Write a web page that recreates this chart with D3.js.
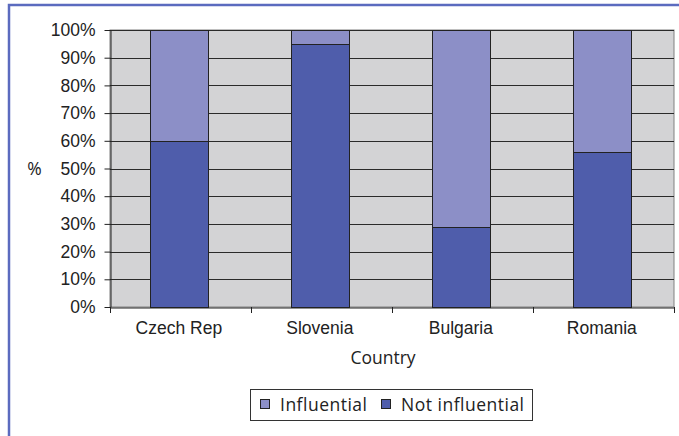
<!DOCTYPE html>
<html>
<head>
<meta charset="utf-8">
<script src="https://cdn.jsdelivr.net/npm/d3@7"></script>
<style>
  html, body { margin: 0; padding: 0; background: #fff; }
  svg { display: block; font-family: "Open Sans", "Noto Sans", sans-serif; }
</style>
</head>
<body>
<div id="chart"></div>
<script>
// Share of respondents who saw the factor as influential, by country
const countries = ["Czech Rep", "Slovenia", "Bulgaria", "Romania"];
const notInfluential = [60, 95, 29, 56];
const influential = [40, 5, 71, 44];
const seriesNames = ["Influential", "Not influential"];
const yTicks = [0, 10, 20, 30, 40, 50, 60, 70, 80, 90, 100];

(function() {
  const W = 679, H = 436;
  const colours = { "Influential": "#8c8fc7", "Not influential": "#4f5dab" };
  const textCol = "#222";
  const fs = "17.5px";

  const svg = d3.select("#chart").append("svg")
    .attr("width", W)
    .attr("height", H);

  // outer frame (cut off at right and bottom like the source)
  svg.append("path")
    .attr("d", `M9,${H + 5} V5 H${W + 5}`)
    .attr("fill", "none")
    .attr("stroke", "#5b6bbf")
    .attr("stroke-width", 2.5);

  const plot = { left: 110, top: 30, right: 674, bottom: 307 };

  const x = d3.scaleBand()
    .domain(countries)
    .range([plot.left, plot.right])
    .paddingInner(0.59)
    .paddingOuter(0.295)
    .align(0.48);

  const y = d3.scaleLinear()
    .domain([0, 100])
    .range([plot.bottom, plot.top]);

  // plot background
  svg.append("rect")
    .attr("x", plot.left)
    .attr("y", plot.top)
    .attr("width", plot.right - plot.left)
    .attr("height", plot.bottom - plot.top)
    .attr("fill", "#d3d3d5")
    .attr("stroke", "#808080")
    .attr("stroke-width", 1);

  // gridlines
  svg.append("g")
    .selectAll("line")
    .data(yTicks.slice(1))
    .join("line")
    .attr("x1", plot.left)
    .attr("x2", plot.right)
    .attr("y1", d => Math.round(y(d)) + 0.5)
    .attr("y2", d => Math.round(y(d)) + 0.5)
    .attr("stroke", "#2a2a2a")
    .attr("stroke-width", 1);

  // stacked bars
  const rows = countries.map((c, i) => ({
    country: c,
    "Not influential": notInfluential[i],
    "Influential": influential[i]
  }));
  const stack = d3.stack().keys(["Not influential", "Influential"]);
  const layers = stack(rows);

  svg.append("g")
    .selectAll("g")
    .data(layers)
    .join("g")
    .attr("fill", d => colours[d.key])
    .selectAll("rect")
    .data(d => d)
    .join("rect")
    .attr("x", d => Math.round(x(d.data.country)) + 0.5)
    .attr("y", d => Math.round(y(d[1])) + 0.5)
    .attr("width", Math.round(x.bandwidth()))
    .attr("height", d => Math.round(y(d[0])) - Math.round(y(d[1])))
    .attr("stroke", "#222")
    .attr("stroke-width", 1);

  // y axis
  const yAxis = svg.append("g")
    .attr("transform", `translate(${plot.left + 0.5},0)`)
    .call(d3.axisLeft(y).tickValues(yTicks).tickFormat(d => d + "%").tickSize(6).tickSizeOuter(0));
  yAxis.select(".domain").attr("stroke", "#222");
  yAxis.selectAll(".tick line").attr("stroke", "#222");
  yAxis.selectAll(".tick text")
    .attr("x", -15)
    .style("font-size", fs)
    .attr("fill", textCol);

  // x axis
  const xAxis = svg.append("g")
    .attr("transform", `translate(0,${plot.bottom + 0.5})`)
    .call(d3.axisBottom(x).tickSize(0).tickSizeOuter(0));
  xAxis.select(".domain").attr("stroke", "#222");
  xAxis.selectAll(".tick text")
    .attr("y", 14)
    .style("font-size", fs)
    .attr("fill", textCol);

  // category boundary ticks
  const bounds = d3.range(countries.length + 1).map(i => plot.left + i * x.step());
  svg.append("g")
    .selectAll("line")
    .data(bounds)
    .join("line")
    .attr("x1", d => Math.round(d) + 0.5)
    .attr("x2", d => Math.round(d) + 0.5)
    .attr("y1", plot.bottom)
    .attr("y2", plot.bottom + 6)
    .attr("stroke", "#222");

  // axis titles
  svg.append("text")
    .attr("x", 34.5)
    .attr("y", y(50))
    .attr("dy", "0.35em")
    .attr("text-anchor", "middle")
    .style("font-size", fs)
    .attr("fill", textCol)
    .text("%");

  svg.append("text")
    .attr("x", 383)
    .attr("y", 358)
    .attr("dy", "0.35em")
    .attr("text-anchor", "middle")
    .style("font-size", fs)
    .attr("fill", textCol)
    .text("Country");

  // legend
  const legend = svg.append("g");
  legend.append("rect")
    .attr("x", 250.5)
    .attr("y", 389.5)
    .attr("width", 282)
    .attr("height", 31)
    .attr("fill", "#fff")
    .attr("stroke", "#333");

  const legendX = [260, 381];
  const items = legend.selectAll("g.item")
    .data(seriesNames)
    .join("g")
    .attr("class", "item")
    .attr("transform", (d, i) => `translate(${legendX[i]},0)`);

  items.append("rect")
    .attr("x", 0.5)
    .attr("y", 399.5)
    .attr("width", 9)
    .attr("height", 9)
    .attr("fill", d => colours[d])
    .attr("stroke", "#222");

  items.append("text")
    .attr("x", 20)
    .attr("y", 404.5)
    .attr("dy", "0.35em")
    .style("font-size", fs)
    .style("letter-spacing", "0.5px")
    .attr("fill", textCol)
    .text(d => d);
})();
</script>
</body>
</html>
